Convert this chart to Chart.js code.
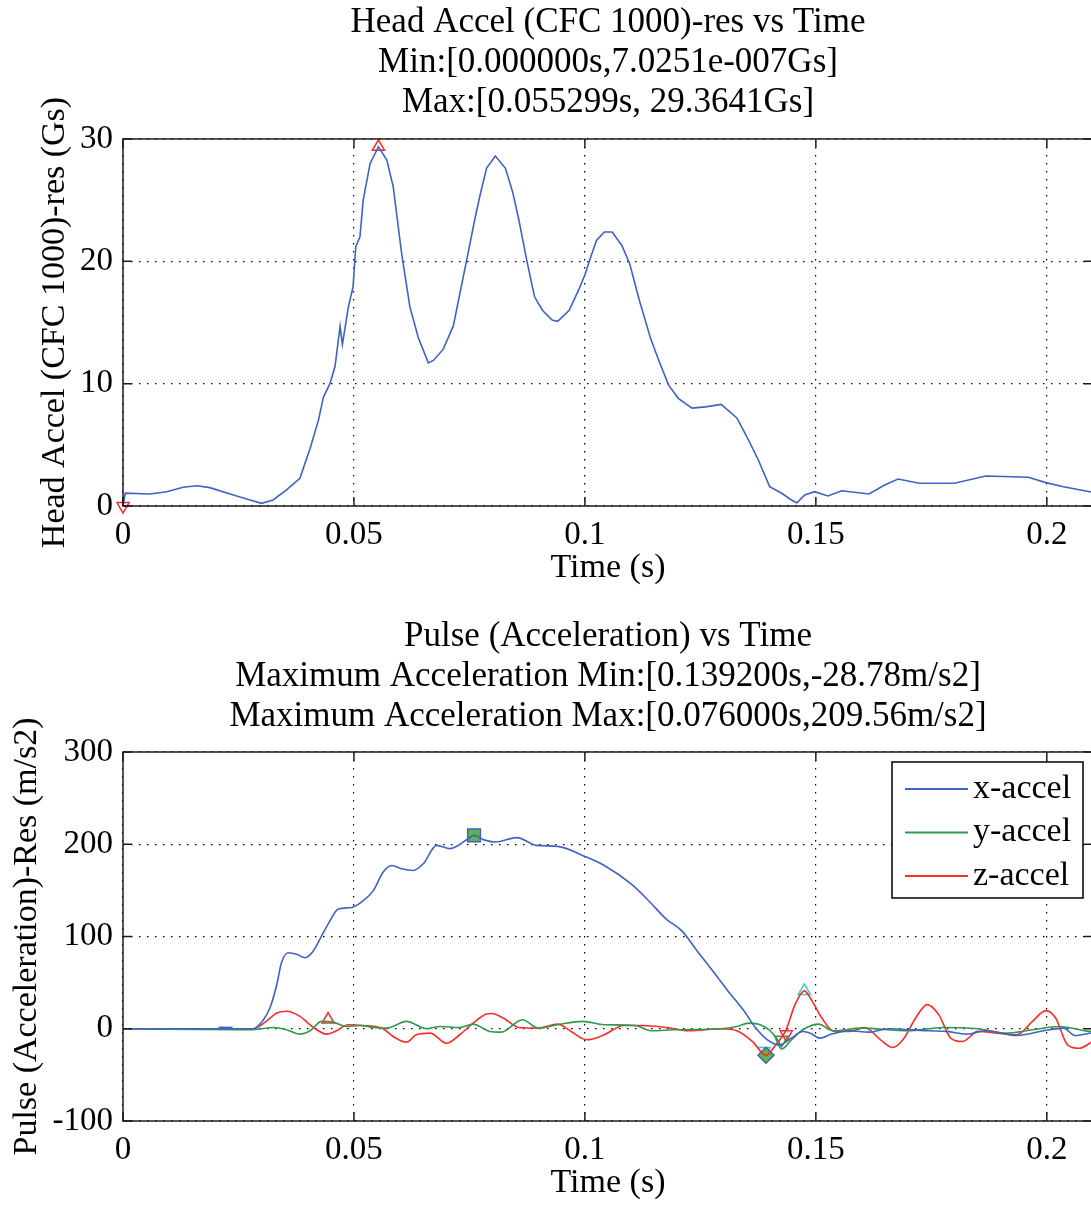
<!DOCTYPE html>
<html>
<head>
<meta charset="utf-8">
<title>Head Accel / Pulse vs Time</title>
<script src="https://cdn.jsdelivr.net/npm/chart.js@4.4.1/dist/chart.umd.min.js"></script>
<style>
  html, body { margin: 0; padding: 0; background: #fff; overflow: hidden; }
  #wrap { width: 1091px; height: 1205px; overflow: hidden; }
  canvas { display: block; }
</style>
</head>
<body>
<div id="wrap">
  <canvas id="headChart" width="1100" height="590"></canvas>
  <canvas id="pulseChart" width="1100" height="615"></canvas>
</div>
<script>
var serif = "'Liberation Serif', 'Times New Roman', serif";
Chart.defaults.font.family = serif;
Chart.defaults.color = '#000';

// tick positions
var timeTicks = [0, 0.05, 0.1, 0.15, 0.2];
var headTicks = [0, 10, 20, 30];
var pulseTicks = [-100, 0, 100, 200, 300];

// head resultant acceleration (s, Gs)
var headTime = [0, 0.0005, 0.0058, 0.0095, 0.013, 0.016, 0.0188, 0.0239, 0.0275, 0.030,
    0.0325, 0.0354, 0.0383, 0.0405, 0.0423, 0.0434, 0.0448, 0.0459, 0.047, 0.0475,
    0.0488, 0.0498, 0.0504, 0.0513, 0.052, 0.0535, 0.055299, 0.0571, 0.0585, 0.0603,
    0.0621, 0.0639, 0.0661, 0.0672, 0.0693, 0.0715, 0.0744, 0.0762, 0.0773, 0.0787,
    0.0806, 0.0828, 0.0844, 0.0857, 0.0874, 0.0891, 0.0908, 0.0929, 0.0941, 0.0966,
    0.0987, 0.1, 0.1013, 0.1025, 0.1042, 0.1059, 0.108, 0.1097, 0.1118, 0.1143,
    0.116, 0.1181, 0.1202, 0.1232, 0.1261, 0.1295, 0.1329, 0.1354, 0.1375, 0.14,
    0.1426, 0.1447, 0.1459, 0.1476, 0.1497, 0.1526, 0.1556, 0.1615, 0.1649, 0.1678,
    0.1724, 0.18, 0.1868, 0.196, 0.1998, 0.2036, 0.2093, 0.21];
var headAccel = [0.00000070251, 1.05, 0.98, 1.17, 1.53, 1.66, 1.5, 0.9, 0.49, 0.22,
    0.49, 1.31, 2.26, 4.7, 7.0, 8.9, 10.0, 11.4, 14.7, 13.2,
    16.3, 17.9, 21.2, 22.0, 25.0, 28.0, 29.3641, 28.3, 26.1, 20.7,
    16.3, 13.8, 11.7, 11.9, 12.8, 14.7, 20.1, 23.5, 25.4, 27.6,
    28.6, 27.6, 25.6, 23.4, 20.1, 17.1, 16.0, 15.2, 15.1, 16.0,
    17.7, 18.9, 20.4, 21.7, 22.4, 22.4, 21.3, 19.8, 16.8, 13.6,
    11.9, 9.9, 8.8, 8.0, 8.1, 8.3, 7.2, 5.4, 3.8, 1.58,
    1.04, 0.49, 0.27, 0.9, 1.17, 0.82, 1.25, 0.98, 1.72, 2.21,
    1.86, 1.86, 2.45, 2.35, 1.91, 1.58, 1.17, 1.1];

// pulse components (s, m/s2)
var xTime = [0, 0.0282, 0.0304, 0.0318, 0.0333, 0.0343, 0.0358, 0.0376, 0.0394, 0.0412,
    0.043, 0.0448, 0.0466, 0.0495, 0.052, 0.0542, 0.0563, 0.0582, 0.0603, 0.0628,
    0.065, 0.0679, 0.0708, 0.0726, 0.0747, 0.076, 0.078, 0.0806, 0.0853, 0.0895,
    0.0941, 0.1, 0.1042, 0.11, 0.1138, 0.1176, 0.121, 0.1243, 0.1277, 0.131,
    0.1345, 0.137, 0.1395, 0.1421, 0.1447, 0.1472, 0.1488, 0.1509, 0.1534, 0.1572,
    0.1615, 0.1657, 0.1741, 0.1784, 0.1826, 0.1868, 0.1935, 0.1994, 0.2036, 0.2061, 0.21];
var xAccel = [0, 0, 9.8, 22.5, 48, 71.6, 82.4, 80.7, 77, 84.3,
    100.6, 117, 129.8, 131.5, 138.8, 149.7, 169.7, 177, 173.4, 171.5,
    178.8, 198.8, 195.2, 198.8, 206, 209.56, 205, 202.4, 207.2, 198.8,
    197.7, 186.8, 177, 157, 138.8, 118.9, 106.1, 84.3, 62.5, 40.7,
    18.9, 0.7, -12, -17.5, -10.2, -3, -4.8, -10.2, -5.8, -2.2,
    -3.7, 0, -2.2, -2.9, -5.8, -2.2, -7.3, -2.2, 0.7, -7.3, -4];

var yTime = [0, 0.0255, 0.0282, 0.0325, 0.0354, 0.0383, 0.0405, 0.043, 0.0455, 0.0484,
    0.0513, 0.0542, 0.0571, 0.0614, 0.0657, 0.0686, 0.0729, 0.0758, 0.0794, 0.0819,
    0.0865, 0.0899, 0.0941, 0.0995, 0.1042, 0.1109, 0.1143, 0.1194, 0.1295, 0.1329,
    0.1354, 0.1388, 0.1409, 0.1426, 0.1447, 0.1472, 0.1505, 0.1539, 0.1598, 0.1699,
    0.1775, 0.1851, 0.191, 0.1969, 0.2028, 0.2093, 0.21];
var yAccel = [0, -1, -1, 1.4, -1, -5.8, -2.2, 8, 7.2, 2.5,
    3.6, 1.4, 0.7, 8, 0, 2.5, 1.4, 5, -2.9, -3.7,
    9.8, 0.7, 4.4, 8, 4.4, 3.6, -2.2, -1.1, 0, 2.5,
    6.1, 2.5, -6.5, -22, -12, -1.1, 5, -2.2, 0.7, -2.2,
    1.4, 0, -4.8, -1.1, 2.5, -2.9, -3];

var zTime = [0, 0.0282, 0.031, 0.0333, 0.0354, 0.0383, 0.0412, 0.0441, 0.0462, 0.0487,
    0.052, 0.0563, 0.0585, 0.0614, 0.0635, 0.0665, 0.07, 0.0729, 0.0758, 0.0787,
    0.0798, 0.0823, 0.0857, 0.0899, 0.0941, 0.097, 0.1004, 0.1042, 0.1084, 0.1126,
    0.1176, 0.1227, 0.1295, 0.1329, 0.1363, 0.1392, 0.1413, 0.1434, 0.1455, 0.1475,
    0.1488, 0.1513, 0.1539, 0.1573, 0.1606, 0.164, 0.1666, 0.1691, 0.1716, 0.1741,
    0.1766, 0.1792, 0.1817, 0.1851, 0.1893, 0.1935, 0.1969, 0.1998, 0.2019, 0.2045,
    0.207, 0.2093, 0.21];
var zAccel = [0, 0, 8, 17, 18.9, 13.4, 1.4, -5.8, -2.2, 4.4,
    3.6, 0, -8.4, -14.6, -6.5, -4.8, -15.7, -6.5, 6.1, 15.9,
    16.5, 11.6, 1.4, 0.7, 5, -2.9, -12, -6.5, 3.6, 3.6,
    1.4, -2.2, 0, -2.2, -13.9, -28.78, -17.5, -2.9, 26.2, 41,
    33.4, 11.6, -2.9, -2.9, 1.4, -12, -20.4, -10.2, 11.6, 26.2,
    15.3, -10.2, -13.9, -2.9, -4.8, -6.5, 8, 19.6, 11.6, -17.5,
    -21.2, -15.7, -13];

// min / max markers
var headMin = [0, 0.00000070251];
var headMax = [0.055299, 29.3641];
var pulseMin = [0.1392, -28.78];
var pulseMax = [0.076, 209.56];
var zPeak = [0.1475, 41];
var zTrough = [0.1388, -24];
var zEarly = [0.0444, 10];
var zLate = [0.1436, -6];
var yTrough = [0.1426, -12];
var xStart = [0.0222, 1.5];

var headTitle = ['Head Accel (CFC 1000)-res vs Time',
    'Min:[0.000000s,7.0251e-007Gs]',
    'Max:[0.055299s, 29.3641Gs]'];
var pulseTitle = ['Pulse (Acceleration) vs Time',
    'Maximum Acceleration Min:[0.139200s,-28.78m/s2]',
    'Maximum Acceleration Max:[0.076000s,209.56m/s2]'];

var blue = '#3f63c2';
var green = '#2f9a4f';
var red = '#ff2b2b';
var cyan = '#2fcfd6';
var leafGreen = '#62b448';

function toPoints(ts, vs) {
    return ts.map(function (t, i) { return { x: t, y: vs[i] }; });
}

function marker(pt, style, color, fill, rotation, radius) {
    return {
        data: [{ x: pt[0], y: pt[1] }],
        showLine: false,
        pointStyle: style,
        pointRadius: radius || 7,
        pointRotation: rotation || 0,
        pointBorderColor: color,
        pointBackgroundColor: fill || 'rgba(0,0,0,0)',
        pointBorderWidth: 1.5,
        clip: false
    };
}

function series(label, ts, vs, color) {
    return {
        label: label,
        data: toPoints(ts, vs),
        showLine: true,
        borderColor: color,
        borderWidth: 1.6,
        pointRadius: 0,
        cubicInterpolationMode: 'monotone',
        inLegend: true
    };
}

// axes box with inward tick marks
var framePlugin = {
    id: 'frame',
    afterDraw: function (chart) {
        var ctx = chart.ctx, a = chart.chartArea;
        var xs = chart.scales.x, ys = chart.scales.y;
        ctx.save();
        ctx.setLineDash([]);
        ctx.strokeStyle = '#1c1c1c';
        ctx.lineWidth = 1.5;
        ctx.strokeRect(a.left, a.top, a.right - a.left, a.bottom - a.top);
        ctx.beginPath();
        xs.ticks.forEach(function (t) {
            var px = xs.getPixelForValue(t.value);
            ctx.moveTo(px, a.bottom); ctx.lineTo(px, a.bottom - 9);
            ctx.moveTo(px, a.top); ctx.lineTo(px, a.top + 9);
        });
        ys.ticks.forEach(function (t) {
            var py = ys.getPixelForValue(t.value);
            ctx.moveTo(a.left, py); ctx.lineTo(a.left + 9, py);
            ctx.moveTo(a.right, py); ctx.lineTo(a.right - 9, py);
        });
        ctx.stroke();
        ctx.restore();
    }
};

// boxed legend in the upper right corner of the plot
var boxLegend = {
    id: 'boxLegend',
    afterDraw: function (chart, args, opts) {
        if (!opts.display) return;
        var ctx = chart.ctx, a = chart.chartArea;
        var items = chart.data.datasets.filter(function (d) { return d.inLegend; });
        var w = 191, h = 136, rowH = 43.5;
        var left = a.right - 10 - w, top = a.top + 10;
        ctx.save();
        ctx.fillStyle = '#fff';
        ctx.fillRect(left, top, w, h);
        ctx.strokeStyle = '#000';
        ctx.lineWidth = 1.5;
        ctx.strokeRect(left, top, w, h);
        ctx.font = '34px ' + serif;
        ctx.textBaseline = 'middle';
        items.forEach(function (d, i) {
            var y = top + 27 + i * rowH;
            ctx.strokeStyle = d.borderColor;
            ctx.lineWidth = 2;
            ctx.beginPath();
            ctx.moveTo(left + 13, y);
            ctx.lineTo(left + 76, y);
            ctx.stroke();
            ctx.fillStyle = '#000';
            ctx.fillText(d.label, left + 81, y);
        });
        ctx.restore();
    }
};

function buildOptions(titleText, titlePad, yLabel, yTitlePad, yMin, yMax, yTicks, withLegend) {
    return {
        responsive: false,
        animation: false,
        events: [],
        layout: { autoPadding: false, padding: { left: 0, right: 7, top: 0, bottom: 0 } },
        plugins: {
            legend: { display: false },
            tooltip: { enabled: false },
            boxLegend: { display: withLegend },
            title: {
                display: true,
                fullSize: false,
                text: titleText,
                color: '#000',
                font: { size: 35, weight: 'normal', lineHeight: 1.137 },
                padding: titlePad
            }
        },
        scales: {
            x: {
                type: 'linear',
                min: 0,
                max: 0.21,
                afterBuildTicks: function (scale) {
                    scale.ticks = timeTicks.map(function (v) { return { value: v }; });
                },
                afterFit: function (scale) { scale.height = 84; },
                ticks: {
                    padding: 10,
                    font: { size: 33 },
                    maxRotation: 0,
                    callback: function (v) { return String(Number(v.toFixed(3))); }
                },
                grid: { color: '#000', lineWidth: 1.2, drawTicks: false },
                border: { display: false, dash: [1.5, 6.5] },
                title: {
                    display: true,
                    text: 'Time (s)',
                    font: { size: 34, lineHeight: 1.2 },
                    padding: { top: 0, bottom: 1.6 }
                }
            },
            y: {
                min: yMin,
                max: yMax,
                afterBuildTicks: function (scale) {
                    scale.ticks = yTicks.map(function (v) { return { value: v }; });
                },
                afterFit: function (scale) { scale.width = 123; },
                ticks: { padding: 10, font: { size: 33 } },
                grid: { color: '#000', lineWidth: 1.2, drawTicks: false },
                border: { display: false, dash: [1.5, 6.5] },
                title: {
                    display: true,
                    text: yLabel,
                    font: { size: 34, lineHeight: 1.2 },
                    padding: { top: yTitlePad, bottom: 0 }
                }
            }
        }
    };
}

new Chart(document.getElementById('headChart'), {
    type: 'scatter',
    data: {
        datasets: [
            {
                label: 'Head Accel (CFC 1000)-res',
                data: toPoints(headTime, headAccel),
                showLine: true,
                borderColor: blue,
                borderWidth: 1.6,
                pointRadius: 0
            },
            marker(headMax, 'triangle', red),
            marker(headMin, 'triangle', red, null, 180)
        ]
    },
    options: buildOptions(headTitle, { top: 3, bottom: 16.6 }, 'Head Accel (CFC 1000)-res (Gs)', 34.6, 0, 30, headTicks, false),
    plugins: [framePlugin, boxLegend]
});

new Chart(document.getElementById('pulseChart'), {
    type: 'scatter',
    data: {
        datasets: [
            series('x-accel', xTime, xAccel, blue),
            series('y-accel', yTime, yAccel, green),
            series('z-accel', zTime, zAccel, red),
            marker(xStart, 'line', blue),
            marker(zEarly, 'triangle', red),
            marker(zLate, 'triangle', red, null, 180),
            marker(yTrough, 'triangle', green, null, 180),
            marker(zPeak, 'triangle', cyan),
            marker(pulseMax, 'rect', blue, leafGreen, 0, 9),
            marker(pulseMin, 'rectRot', blue, leafGreen, 0, 8),
            marker(zTrough, 'triangle', cyan, null, 180)
        ]
    },
    options: buildOptions(pulseTitle, { top: 27, bottom: 15.6 }, 'Pulse (Acceleration)-Res (m/s2)', 6.6, -100, 300, pulseTicks, true),
    plugins: [framePlugin, boxLegend]
});
</script>
</body>
</html>
